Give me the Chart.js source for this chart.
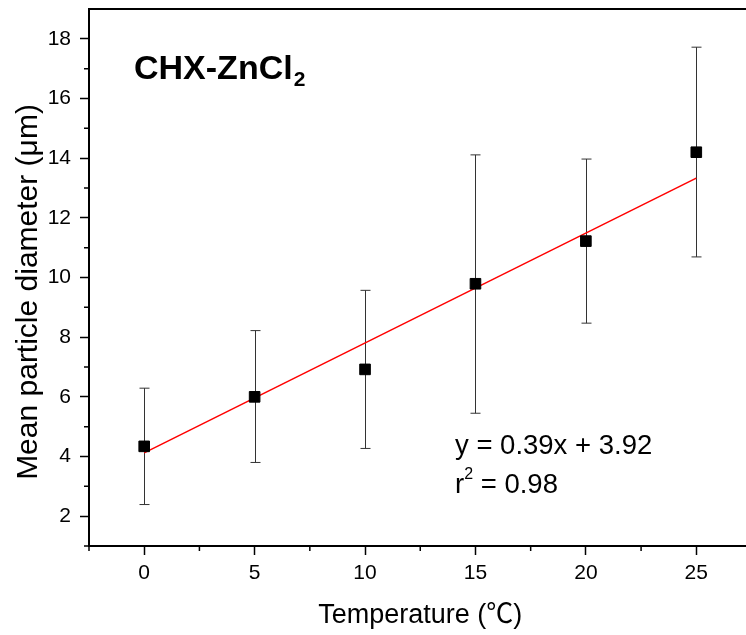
<!DOCTYPE html>
<html>
<head>
<meta charset="utf-8">
<script src="https://cdn.jsdelivr.net/npm/chart.js@4.4.1/dist/chart.umd.min.js"></script>
<style>
  html, body { margin: 0; padding: 0; background: #fff; overflow: hidden; }
  #wrap { width: 760px; height: 635px; }
</style>
</head>
<body>
<div id="wrap"><canvas id="myChart" width="760" height="635"></canvas></div>
<script>
// data
const temperature = [0, 5, 10, 15, 20, 25];
const meanDiameter = [4.34, 6.00, 6.92, 9.79, 11.22, 14.20];
const errorUpper = [6.29, 8.22, 9.57, 14.11, 13.97, 17.72];
const errorLower = [2.39, 3.80, 4.27, 5.45, 8.47, 10.69];
const fitX = [0, 25];
const fitY = [4.12, 13.33];
const xTicks = [0, 5, 10, 15, 20, 25];
const yTicks = [2, 4, 6, 8, 10, 12, 14, 16, 18];
const xMinorTicks = [-2.5, 2.5, 7.5, 12.5, 17.5, 22.5];
const yMinorTicks = [1, 3, 5, 7, 9, 11, 13, 15, 17];

const FONT = "'Liberation Sans', Arial, 'Noto Sans CJK SC', sans-serif";

// error bars, minor ticks, top frame line and text labels
const extras = {
    id: 'extras',
    beforeDatasetsDraw(chart) {
        const ctx = chart.ctx;
        const xs = chart.scales.x, ys = chart.scales.y;
        ctx.save();
        ctx.strokeStyle = '#333';
        ctx.lineWidth = 1;
        for (let i = 0; i < temperature.length; ++i) {
            const px = Math.round(xs.getPixelForValue(temperature[i])) + 0.5;
            const top = ys.getPixelForValue(errorUpper[i]);
            const bot = ys.getPixelForValue(errorLower[i]);
            ctx.beginPath();
            ctx.moveTo(px, top); ctx.lineTo(px, bot);
            ctx.moveTo(px - 5, top); ctx.lineTo(px + 5, top);
            ctx.moveTo(px - 5, bot); ctx.lineTo(px + 5, bot);
            ctx.stroke();
        }
        ctx.restore();
    },
    afterDraw(chart) {
        const ctx = chart.ctx;
        const a = chart.chartArea;
        const xs = chart.scales.x, ys = chart.scales.y;
        ctx.save();
        ctx.strokeStyle = '#000';
        ctx.lineWidth = 2;
        ctx.beginPath();
        ctx.moveTo(a.left, a.top); ctx.lineTo(a.right, a.top);
        ctx.stroke();
        ctx.lineWidth = 1.5;
        ctx.beginPath();
        xMinorTicks.forEach(v => {
            const px = xs.getPixelForValue(v);
            ctx.moveTo(px, a.bottom); ctx.lineTo(px, a.bottom + 5);
        });
        yMinorTicks.forEach(v => {
            const py = ys.getPixelForValue(v);
            ctx.moveTo(a.left, py); ctx.lineTo(a.left - 5, py);
        });
        ctx.stroke();

        ctx.fillStyle = '#000';
        // y axis title
        ctx.save();
        ctx.translate(29, 292);
        ctx.rotate(-Math.PI / 2);
        ctx.textAlign = 'center';
        ctx.textBaseline = 'middle';
        ctx.font = '30px ' + FONT;
        ctx.fillText('Mean particle diameter (μm)', 0, 0);
        ctx.restore();

        ctx.textBaseline = 'alphabetic';
        ctx.textAlign = 'left';
        ctx.font = 'bold 34px ' + FONT;
        const label = 'CHX-ZnCl';
        ctx.fillText(label, 134, 79);
        const w = ctx.measureText(label).width;
        ctx.font = 'bold 21px ' + FONT;
        ctx.fillText('2', 134 + w + 1, 86);

        ctx.font = '27.5px ' + FONT;
        ctx.fillText('y = 0.39x + 3.92', 455, 454);
        ctx.fillText('r', 455, 493);
        const rw = ctx.measureText('r').width;
        ctx.font = '16px ' + FONT;
        ctx.fillText('2', 455 + rw, 479);
        const sw = ctx.measureText('2').width;
        ctx.font = '27.5px ' + FONT;
        ctx.fillText(' = 0.98', 455 + rw + sw, 493);
        ctx.restore();
    }
};

const ctx = document.getElementById('myChart').getContext('2d');
const myChart = new Chart(ctx, {
    type: 'scatter',
    data: {
        datasets: [
            {
                label: 'Mean',
                data: temperature.map((t, i) => ({x: t, y: meanDiameter[i]})),
                pointStyle: 'rect',
                pointRadius: 7.5,
                backgroundColor: '#000',
                borderColor: '#000',
                borderWidth: 1,
                order: 0
            },
            {
                label: 'Fit',
                type: 'line',
                data: fitX.map((t, i) => ({x: t, y: fitY[i]})),
                borderColor: '#ff0000',
                borderWidth: 1.5,
                pointRadius: 0,
                fill: false,
                order: 1
            }
        ]
    },
    options: {
        responsive: false,
        animation: false,
        devicePixelRatio: 1,
        layout: { padding: { top: 9, right: 6, left: 0, bottom: 0 } },
        plugins: { legend: { display: false }, tooltip: { enabled: false } },
        scales: {
            x: {
                type: 'linear',
                min: -2.5,
                max: 27.5,
                afterBuildTicks: s => { s.ticks = xTicks.map(v => ({value: v})); },
                afterFit: s => { s.height = 89; s.paddingLeft = 0; s.paddingRight = 0; },
                grid: { drawOnChartArea: false, tickLength: 9, tickColor: '#000', tickWidth: 1.5 },
                border: { color: '#000', width: 2 },
                ticks: { color: '#000', padding: 6, font: { family: FONT, size: 21 } },
                title: { display: true, text: 'Temperature (℃)', color: '#000',
                         font: { family: FONT, size: 27 }, padding: { top: 0, bottom: 3 } }
            },
            y: {
                min: 1,
                max: 19,
                afterBuildTicks: s => { s.ticks = yTicks.map(v => ({value: v})); },
                afterFit: s => { s.width = 89; s.paddingTop = 0; s.paddingBottom = 0; },
                grid: { drawOnChartArea: false, tickLength: 9, tickColor: '#000', tickWidth: 1.5 },
                border: { color: '#000', width: 2 },
                ticks: { color: '#000', padding: 9, font: { family: FONT, size: 21 } }
            }
        }
    },
    plugins: [extras]
});
</script>
</body>
</html>
